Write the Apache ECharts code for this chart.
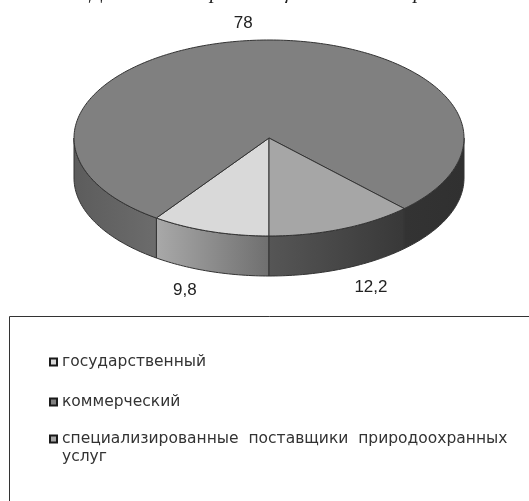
<!DOCTYPE html>
<html>
<head>
<meta charset="utf-8">
<style>
  html, body { margin: 0; padding: 0; background: #fff; overflow: hidden; }
  #chart { width: 529px; height: 501px; }
</style>
<script src="https://cdn.jsdelivr.net/npm/echarts@6/dist/echarts.min.js"></script>
</head>
<body>
<div id="chart"></div>
<script>
  // data
  var categories = ['государственный', 'коммерческий', 'специализированные  поставщики  природоохранных  услуг']
  var shares = [9.8, 78, 12.2]
  var shareLabels = ['9,8', '78', '12,2']
  var titleText = 'Доля типов/организационных секторов'

  // pie geometry
  var CX = 269, CY = 138, RX = 195, RY = 98, DEPTH = 40
  var START_ANGLE = 180 // clockwise from the top, degrees

  var topColors = ['#d9d9d9', '#808080', '#a6a6a6']
  // wall gradients, left to right
  var wallColors = [
    [['#a9a9a9', '#6f6f6f']],
    [['#5c5c5c', '#6c6c6c'], ['#333333', '#303030']],
    [['#565656', '#383838']]
  ]
  var labelOffsets = [[-25, 19], [-11, -17], [29, 18]]
  var LEGEND_FONT = 'DejaVu Sans'

  var total = shares.reduce(function (a, b) { return a + b }, 0)

  function point(angle, dy) {
    var rad = angle * Math.PI / 180
    return [CX + RX * Math.sin(rad), CY - RY * Math.cos(rad) + dy]
  }

  function arc(from, to, dy) {
    var pts = []
    for (var a = from; a < to; a += 1) pts.push(point(a, dy))
    pts.push(point(to, dy))
    return pts
  }

  function wall(from, to, colors) {
    var pts = arc(from, to, 0).concat(arc(from, to, DEPTH).reverse())
    return {
      type: 'polygon',
      shape: { points: pts },
      style: {
        fill: new echarts.graphic.LinearGradient(0, 0, 1, 0, [
          { offset: 0, color: colors[0] },
          { offset: 1, color: colors[1] }
        ]),
        stroke: '#333',
        lineWidth: 1
      }
    }
  }

  function makeRenderItem(index) {
    return function (params, api) {
      var before = shares.slice(0, index).reduce(function (a, b) { return a + b }, 0)
      var from = START_ANGLE + before / total * 360
      var to = from + api.value(0) / total * 360
      var children = []

      // only the front half (90..270 degrees, and again one turn later) shows a wall
      var wallIdx = 0
      ;[[90, 270], [450, 630]].forEach(function (front) {
        var a = Math.max(from, front[0]), b = Math.min(to, front[1])
        if (a < b) children.push(wall(a, b, wallColors[index][wallIdx++]))
      })

      children.push({
        type: 'polygon',
        shape: { points: [[CX, CY]].concat(arc(from, to, 0)) },
        style: { fill: topColors[index], stroke: '#333', lineWidth: 1 }
      })

      var mid = (from + to) / 2
      var rad = mid * Math.PI / 180
      var anchor = point(mid, Math.cos(rad) < 0 ? DEPTH : 0)
      children.push({
        type: 'text',
        style: {
          x: anchor[0] + labelOffsets[index][0],
          y: anchor[1] + labelOffsets[index][1],
          text: shareLabels[index],
          fill: '#222',
          font: '17px "Liberation Sans"',
          align: 'center',
          verticalAlign: 'middle'
        }
      })
      return { type: 'group', children: children }
    }
  }

  var series = categories.map(function (name, i) {
    return {
      type: 'custom',
      name: name,
      coordinateSystem: 'none',
      itemStyle: { color: topColors[i] },
      data: [[shares[i]]],
      renderItem: makeRenderItem(i),
      animation: false,
      silent: true
    }
  })

  var legendTops = [354, 394, 431]
  var legends = categories.map(function (name, i) {
    return {
      left: 49,
      top: legendTops[i],
      data: [name],
      icon: 'rect',
      itemWidth: 7,
      itemHeight: 7,
      itemGap: 0,
      padding: 0,
      selectedMode: false,
      itemStyle: { borderColor: '#1a1a1a', borderWidth: 2 },
      formatter: function (n) { return n.replace(/\s+услуг$/, '') },
      textStyle: { color: '#333', fontFamily: LEGEND_FONT, fontSize: 15.5 }
    }
  })

  var chart = echarts.init(document.getElementById('chart'), null, { renderer: 'canvas' })
  chart.setOption({
    animation: false,
    backgroundColor: '#fff',
    title: {
      text: titleText,
      left: 267,
      textAlign: 'center',
      top: -18,
      padding: 0,
      textStyle: { color: '#222', fontFamily: 'Liberation Serif', fontSize: 21, fontWeight: 'normal', fontStyle: 'italic' }
    },
    legend: legends,
    series: series,
    graphic: [
      {
        type: 'rect',
        z: -1,
        shape: { x: 9.5, y: 316.5, width: 560, height: 240 },
        style: { fill: '#fff', stroke: '#333', lineWidth: 1 }
      },
      {
        type: 'text',
        style: {
          x: 62,
          y: 457,
          text: 'услуг',
          fill: '#333',
          font: '15.5px "DejaVu Sans"',
          verticalAlign: 'middle'
        }
      }
    ]
  })
</script>
</body>
</html>
